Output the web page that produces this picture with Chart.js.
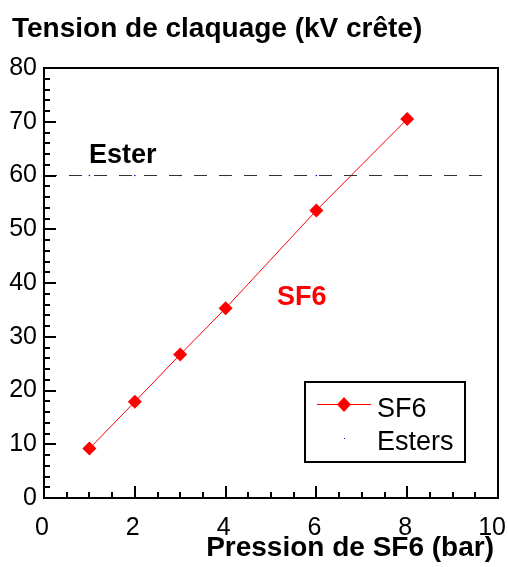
<!DOCTYPE html>
<html>
<head>
<meta charset="utf-8">
<script src="https://cdn.jsdelivr.net/npm/chart.js@4/dist/chart.umd.min.js"></script>
<style>
  html, body { margin: 0; padding: 0; background: #fff; }
  canvas { display: block; }
</style>
</head>
<body>
<canvas id="chart" width="508" height="567"></canvas>
<script>
// breakdown voltage vs SF6 pressure
const pressures = [1, 2, 3, 4, 6, 8];
const sf6Voltages = [9.2, 17.9, 26.7, 35.3, 53.5, 70.5];
const esterLevel = 60;
const xTicks = [0, 2, 4, 6, 8, 10];
const yTicks = [0, 10, 20, 30, 40, 50, 60, 70, 80];

const FONT = "'Liberation Sans', Arial, sans-serif";

// inward tick marks, top/right frame, x labels, titles and legend box
const decorations = {
  id: "decorations",
  afterDraw(chart) {
    const { ctx, chartArea: a, scales: { x, y } } = chart;
    ctx.save();
    ctx.strokeStyle = "#000";
    ctx.lineWidth = 2;
    ctx.strokeRect(a.left, a.top, a.right - a.left, a.bottom - a.top);

    ctx.beginPath();
    for (let v = 0; v <= 80; v += 2) {
      const py = Math.round(y.getPixelForValue(v));
      const len = v % 10 === 0 ? 12 : 6;
      ctx.moveTo(a.left, py);
      ctx.lineTo(a.left + len, py);
    }
    for (let v = 0; v <= 10; v += 0.5) {
      const px = Math.round(x.getPixelForValue(v));
      const len = v % 2 === 0 ? 12 : 6;
      ctx.moveTo(px, a.bottom);
      ctx.lineTo(px, a.bottom - len);
    }
    ctx.stroke();

    // x tick labels, kept inside the canvas at the right edge
    ctx.fillStyle = "#000";
    ctx.font = "25px " + FONT;
    ctx.textAlign = "center";
    ctx.textBaseline = "alphabetic";
    xTicks.forEach((v) => {
      const label = String(v);
      const w = ctx.measureText(label).width;
      let cx = x.getPixelForValue(v) - 2;
      cx = Math.min(cx, chart.width - 2 - w / 2);
      ctx.fillText(label, cx, 535);
    });

    ctx.font = "bold 28px " + FONT;
    ctx.textAlign = "left";
    ctx.fillText("Tension de claquage (kV crête)", 12, 37);
    ctx.textAlign = "right";
    ctx.fillText("Pression de SF6 (bar)", 494, 556);

    ctx.textAlign = "left";
    ctx.font = "bold 27px " + FONT;
    ctx.fillText("Ester", 89, 163);
    ctx.fillStyle = "#ff0000";
    ctx.fillText("SF6", 277, 305);

    // legend
    const lx = 305, ly = 382, lw = 160, lh = 80;
    ctx.fillStyle = "#fff";
    ctx.fillRect(lx, ly, lw, lh);
    ctx.strokeStyle = "#000";
    ctx.lineWidth = 2;
    ctx.strokeRect(lx, ly, lw, lh);

    ctx.strokeStyle = "#ff0000";
    ctx.lineWidth = 1;
    ctx.beginPath();
    ctx.moveTo(317, 404.5);
    ctx.lineTo(371, 404.5);
    ctx.stroke();
    ctx.fillStyle = "#ff0000";
    ctx.beginPath();
    ctx.moveTo(344, 397);
    ctx.lineTo(351, 404.5);
    ctx.lineTo(344, 412);
    ctx.lineTo(337, 404.5);
    ctx.closePath();
    ctx.fill();
    ctx.fillStyle = "#0000ff";
    ctx.fillRect(344, 438, 1, 1);

    ctx.fillStyle = "#000";
    ctx.font = "27px " + FONT;
    ctx.fillText("SF6", 377, 417);
    ctx.fillText("Esters", 377, 450);
    ctx.restore();
  }
};

new Chart(document.getElementById("chart"), {
  type: "scatter",
  data: {
    datasets: [
      {
        label: "Ester",
        data: [{ x: 0, y: esterLevel }, { x: 9.7, y: esterLevel }],
        showLine: true,
        borderColor: "#333",
        borderWidth: 1,
        borderDash: [13, 12],
        pointRadius: 0
      },
      {
        label: "Esters",
        data: pressures.map((p) => ({ x: p, y: esterLevel })),
        showLine: false,
        pointRadius: 0.8,
        pointBackgroundColor: "#0000ff",
        pointBorderWidth: 0
      },
      {
        label: "SF6",
        data: pressures.map((p, i) => ({ x: p, y: sf6Voltages[i] })),
        showLine: true,
        borderColor: "#ff0000",
        borderWidth: 1,
        pointStyle: "rectRot",
        pointRadius: 7,
        pointBackgroundColor: "#ff0000",
        pointBorderColor: "#ff0000",
        pointBorderWidth: 0
      }
    ]
  },
  options: {
    responsive: false,
    animation: false,
    layout: { padding: { top: 68, right: 10, left: 0, bottom: 0 } },
    plugins: { legend: { display: false }, tooltip: { enabled: false } },
    scales: {
      x: {
        type: "linear",
        min: 0,
        max: 10,
        afterBuildTicks: (s) => { s.ticks = xTicks.map((v) => ({ value: v })); },
        afterFit: (s) => { s.height = 69; s.paddingLeft = 0; s.paddingRight = 0; },
        grid: { display: false, drawTicks: false },
        border: { display: false },
        ticks: { display: false }
      },
      y: {
        type: "linear",
        min: 0,
        max: 80,
        afterBuildTicks: (s) => { s.ticks = yTicks.map((v) => ({ value: v })); },
        afterFit: (s) => { s.width = 44; s.paddingTop = 0; s.paddingBottom = 0; },
        grid: { display: false, drawTicks: false },
        border: { display: false },
        ticks: { color: "#000", padding: 7, font: { family: FONT, size: 25 } }
      }
    }
  },
  plugins: [decorations]
});
</script>
</body>
</html>
